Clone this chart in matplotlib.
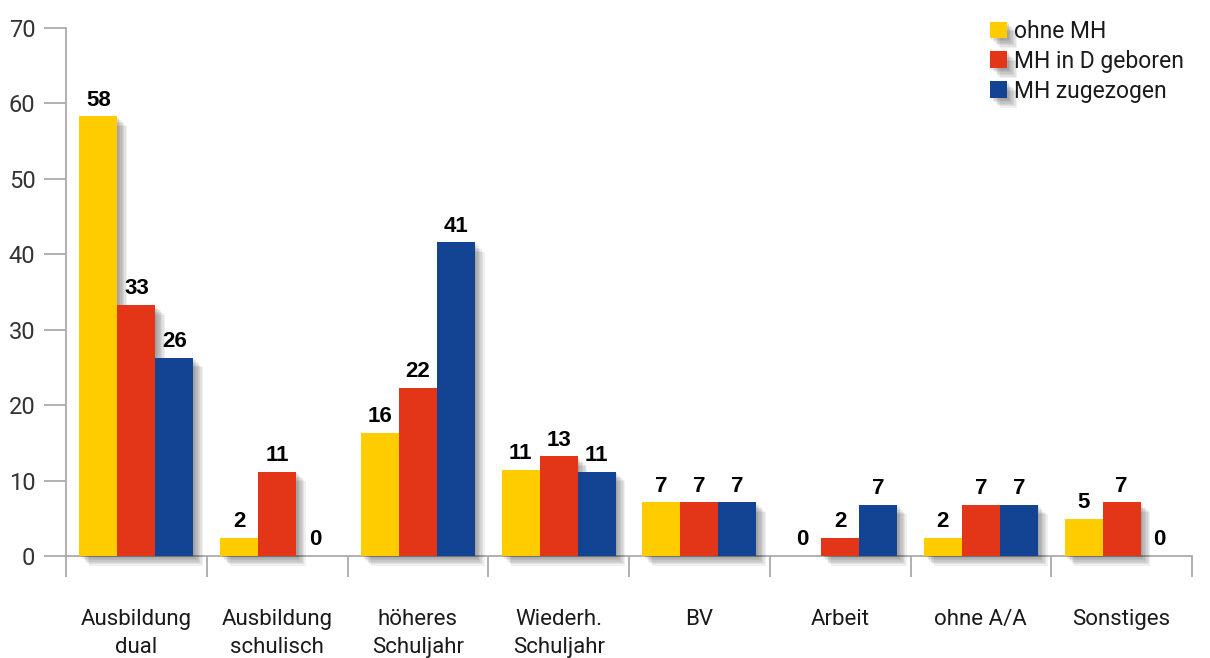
import numpy as np
import matplotlib.pyplot as plt
import matplotlib.patheffects as pe

plt.rcParams['font.family'] = ['Roboto', 'DejaVu Sans']

# Daten
categories = ['Ausbildung\ndual', 'Ausbildung\nschulisch', 'höheres\nSchuljahr', 'Wiederh.\nSchuljahr',
              'BV', 'Arbeit', 'ohne A/A', 'Sonstiges']
series_names = ['ohne MH', 'MH in D geboren', 'MH zugezogen']
ohne_mh = [58.3, 2.4, 16.3, 11.4, 7.1, 0, 2.4, 4.9]
mh_geboren = [33.3, 11.2, 22.3, 13.2, 7.1, 2.4, 6.8, 7.1]
mh_zugezogen = [26.3, 0, 41.6, 11.2, 7.1, 6.8, 6.8, 0]
labels_ohne = [58, 2, 16, 11, 7, 0, 2, 5]
labels_geboren = [33, 11, 22, 13, 7, 2, 7, 7]
labels_zugezogen = [26, 0, 41, 11, 7, 7, 7, 0]

colors = ['#FFCC00', '#E33517', '#134493']
grey = '#aaaaaa'

fig = plt.figure(figsize=(12.1, 6.58), dpi=100)
ax = fig.add_axes([66 / 1210, 102 / 658, (1192 - 66) / 1210, (556 - 28) / 658])

x = np.arange(len(categories))
w = 0.27
# weicher Schatten: mehrere versetzte, halbtransparente Kopien
shadow = [pe.SimplePatchShadow(offset=(d, -d), shadow_rgbFace='k', alpha=0.06) for d in (1, 2, 3, 4, 5, 6, 7)]
shadow.append(pe.Normal())

all_vals = [ohne_mh, mh_geboren, mh_zugezogen]
all_labels = [labels_ohne, labels_geboren, labels_zugezogen]
for i, (vals, labs) in enumerate(zip(all_vals, all_labels)):
    xs = x + (i - 1) * w
    bars = ax.bar(xs, vals, width=w, color=colors[i], label=series_names[i], zorder=3, clip_on=False)
    for b in bars:
        b.set_path_effects(shadow)
    for xi, v, lab in zip(xs, vals, labs):
        ax.annotate(str(lab), (xi, v), xytext=(0, 4), textcoords='offset points',
                    ha='center', va='bottom', fontsize=16, fontweight='bold', color='black',
                    family=['Liberation Sans', 'DejaVu Sans'], zorder=5)

ax.set_xlim(-0.5, len(categories) - 0.5)
ax.set_ylim(0, 70)
ax.set_yticks(range(0, 71, 10))

# Trennstriche zwischen Kategorien, Beschriftung in der Mitte
ax.set_xticks(np.arange(-0.5, len(categories), 1.0))
ax.set_xticklabels([])
ax.set_xticks(x, minor=True)
ax.set_xticklabels(categories, minor=True)
ax.tick_params(axis='x', which='major', direction='out', length=15, width=1.3, color=grey)
ax.tick_params(axis='x', which='minor', length=0, pad=38, labelsize=16, labelcolor='#1a1a1a')
ax.tick_params(axis='y', direction='out', length=16, width=1.3, color=grey, pad=6,
               labelsize=17, labelcolor='#333333')
for lab in ax.get_xticklabels(minor=True):
    lab.set_linespacing(1.45)

for s in ['top', 'right']:
    ax.spines[s].set_visible(False)
for s in ['left', 'bottom']:
    ax.spines[s].set_color(grey)
    ax.spines[s].set_linewidth(1.3)

leg = fig.legend(loc='upper left', bbox_to_anchor=(990 / 1210, 1 - 20 / 658), frameon=False, fontsize=16.5,
                 handlelength=0.75, handleheight=0.75, handletextpad=0.3, labelspacing=0.3,
                 borderpad=0, borderaxespad=0)
for t in leg.get_texts():
    t.set_color('#1a1a1a')

fig.savefig('out.png', dpi=100)
